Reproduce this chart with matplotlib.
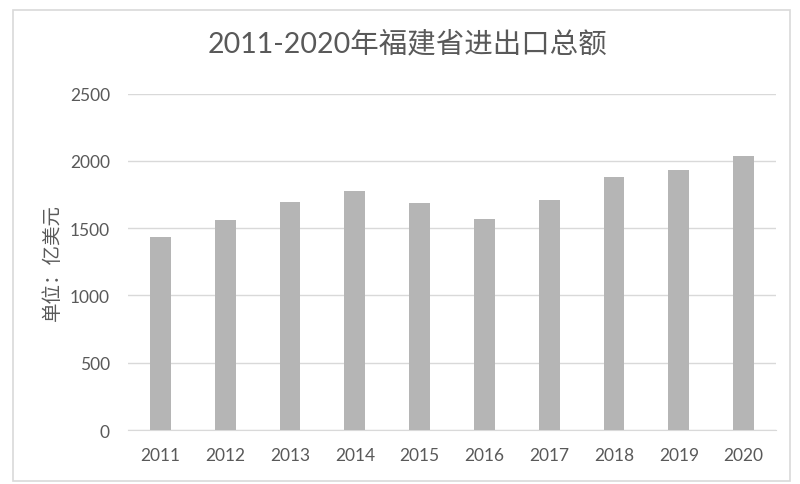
import matplotlib
matplotlib.use("Agg")
from matplotlib import pyplot as plt
from matplotlib.patches import Rectangle

# 数据：2011-2020 福建省进出口总额（亿美元）
years = ["2011", "2012", "2013", "2014", "2015", "2016", "2017", "2018", "2019", "2020"]
totals = [1435, 1559, 1695, 1777, 1690, 1569, 1712, 1879, 1935, 2035]
y_ticks = [0, 500, 1000, 1500, 2000, 2500]

plt.rcParams['font.family'] = ['Lato', 'Noto Sans CJK SC', 'DejaVu Sans']

fig = plt.figure(figsize=(8, 4.85), dpi=100)
ax = fig.add_axes([0.16, 0.1113, 0.81, 0.6934])

# 外框
fig.patches.append(Rectangle((13 / 800, 1 - 482 / 485), 777 / 800, 471 / 485,
                             transform=fig.transFigure, fill=False,
                             edgecolor="#d9d9d9", linewidth=1.2))

x = range(len(years))
ax.bar(x, totals, width=0.32, color="#b5b5b5", zorder=3)

ax.set_xlim(-0.5, len(years) - 0.5)
ax.set_ylim(0, 2500)
ax.set_yticks(y_ticks)
ax.set_xticks(list(x))
ax.set_xticklabels(years)

ax.yaxis.grid(True, color="#d9d9d9", linewidth=1, zorder=0)
for side in ["top", "right", "left"]:
    ax.spines[side].set_visible(False)
ax.spines["bottom"].set_color("#d9d9d9")
ax.tick_params(axis='both', length=0, labelsize=12.5, colors="#595959")
ax.tick_params(axis='x', pad=12)
ax.tick_params(axis='y', pad=13)

fig.text(0.509, 0.909, "2011-2020年福建省进出口总额", ha="center", va="center",
         fontsize=20.5, color="#595959")
fig.text(0.066, 0.458, "单位：亿美元", rotation=90, ha="center", va="center",
         fontsize=14, color="#595959", family=['Noto Sans CJK SC', 'DejaVu Sans'])

fig.savefig("out.png", dpi=100)
